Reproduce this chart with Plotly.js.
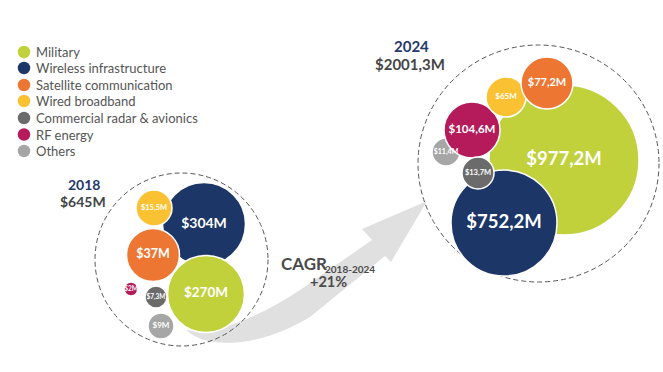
<!DOCTYPE html>
<html>
<head>
<meta charset="utf-8">
<script src="https://cdn.plot.ly/plotly-3.0.1.min.js"></script>
<style>html,body{margin:0;padding:0;background:#fff;}#chart{width:663px;height:372px;}</style>
</head>
<body>
<div id="chart"></div>
<script>
// ---- data ----
const categories = ['Military', 'Wireless infrastructure', 'Satellite communication', 'Wired broadband', 'Commercial radar & avionics', 'RF energy', 'Others'];
const values2018 = [270, 304, 37, 15.5, 7.3, 2, 9];
const values2024 = [977.2, 752.2, 77.2, 65, 13.7, 104.6, 11.4];
const years = ['2018', '2024'];
const totals = [645, 2001.3];
const cagrPct = 21;

// ---- styles / layout arrays ----
const colors = ['#c0d13c', '#1b3667', '#ed7632', '#fac232', '#6b6b6b', '#b51b5b', '#a6a6a6'];
const posX2018 = [206, 204, 153, 154, 156, 131, 161];
const posY2018 = [294, 224, 255, 208, 297, 289, 326];
const rad2018 = [38.5, 41.5, 26.5, 18, 11, 7, 13];
const font2018 = [13.5, 14, 12.5, 7.5, 6.5, 6.5, 8];
const order2018 = [1, 0, 2, 3, 4, 5, 6];

const posX2024 = [564, 504, 547, 506, 478, 472, 446];
const posY2024 = [160, 223, 83, 97, 173, 130, 152];
const rad2024 = [75, 53, 26, 20, 16, 28, 14];
const font2024 = [18.5, 18.5, 11, 8, 7.5, 11.5, 7];
const order2024 = [0, 1, 6, 5, 3, 2, 4];

const legendX = 24, legendTextX = 34;
const legendY = [52, 68, 85, 101, 118, 134.5, 151];

const FONT = 'Lato, "Open Sans", sans-serif';
const HEAVY = 'bold';
const fmt = v => '$' + String(v).replace('.', ',') + 'M';

function bubbleTrace(values, px, py, rad, fs, order) {
  return {
    type: 'scatter', mode: 'markers+text', hoverinfo: 'skip', showlegend: false,
    x: order.map(i => px[i]), y: order.map(i => py[i]),
    text: order.map(i => fmt(values[i])),
    textposition: 'middle center',
    textfont: {family: FONT, color: '#ffffff', size: order.map(i => fs[i]), weight: HEAVY},
    marker: {size: order.map(i => rad[i] * 2), color: order.map(i => colors[i]), opacity: 1,
             line: {color: '#ffffff', width: 1.5}}
  };
}

const traces = [
  bubbleTrace(values2018, posX2018, posY2018, rad2018, font2018, order2018),
  bubbleTrace(values2024, posX2024, posY2024, rad2024, font2024, order2024),
  {type: 'scatter', mode: 'markers', hoverinfo: 'skip', showlegend: false,
   x: categories.map(() => legendX), y: legendY,
   marker: {size: 12.5, color: colors, line: {width: 0}}}
];

const annotations = categories.map((c, i) => ({
  x: legendTextX, y: legendY[i], xref: 'x', yref: 'y', text: c, showarrow: false,
  xanchor: 'left', yanchor: 'middle', font: {family: FONT, size: 13, color: '#555555'}
}));

const headX = [[84, 83], [411, 409.5]];
const headY = [[184.5, 201], [46, 64]];
years.forEach((yr, k) => {
  annotations.push({x: headX[k][0], y: headY[k][0], xref: 'x', yref: 'y', text: yr, showarrow: false, borderpad: 0,
    font: {family: FONT, size: k ? 15 : 14, color: '#1f3a6b', weight: HEAVY}});
  annotations.push({x: headX[k][1], y: headY[k][1], xref: 'x', yref: 'y', text: fmt(totals[k]), showarrow: false, borderpad: 0,
    font: {family: FONT, size: k ? 15 : 14, color: '#454545', weight: HEAVY}});
});
annotations.push({x: 280, y: 263, xref: 'x', yref: 'y', xanchor: 'left', showarrow: false, borderpad: 0,
  text: 'CAGR', font: {family: FONT, size: 17, color: '#4a4a4a', weight: HEAVY}});
annotations.push({x: 324, y: 268.5, xref: 'x', yref: 'y', xanchor: 'left', showarrow: false, borderpad: 0,
  text: years[0] + '-' + years[1], font: {family: FONT, size: 10, color: '#4a4a4a', weight: HEAVY}});
annotations.push({x: 328, y: 281, xref: 'x', yref: 'y', showarrow: false, borderpad: 0,
  text: '+' + cagrPct + '%', font: {family: FONT, size: 14.5, color: '#4a4a4a', weight: HEAVY}});

const shapes = [
  {type: 'path', layer: 'below', xref: 'x', yref: 'y', fillcolor: '#e0e0e0', line: {width: 0},
   path: 'M 186 330 C 205 348, 255 350, 310 317 L 385 256 L 391 262 L 427 201 L 362 229 L 372 240 L 300 290 C 270 310, 240 324, 205 333 Z'},
  {type: 'circle', layer: 'below', xref: 'x', yref: 'y', x0: 95, x1: 268, y0: 173, y1: 346,
   line: {color: '#555555', width: 1, dash: '5px,3px'}},
  {type: 'circle', layer: 'below', xref: 'x', yref: 'y', x0: 418, x1: 659, y0: 45, y1: 282,
   line: {color: '#555555', width: 1, dash: '5px,3px'}}
];

const layout = {
  width: 663, height: 372, margin: {l: 0, r: 0, t: 0, b: 0},
  paper_bgcolor: '#ffffff', plot_bgcolor: '#ffffff', showlegend: false,
  xaxis: {range: [0, 663], visible: false, fixedrange: true},
  yaxis: {range: [372, 0], visible: false, fixedrange: true},
  shapes: shapes, annotations: annotations, font: {family: FONT}
};

Plotly.newPlot('chart', traces, layout, {staticPlot: true, displayModeBar: false});
</script>
</body>
</html>
